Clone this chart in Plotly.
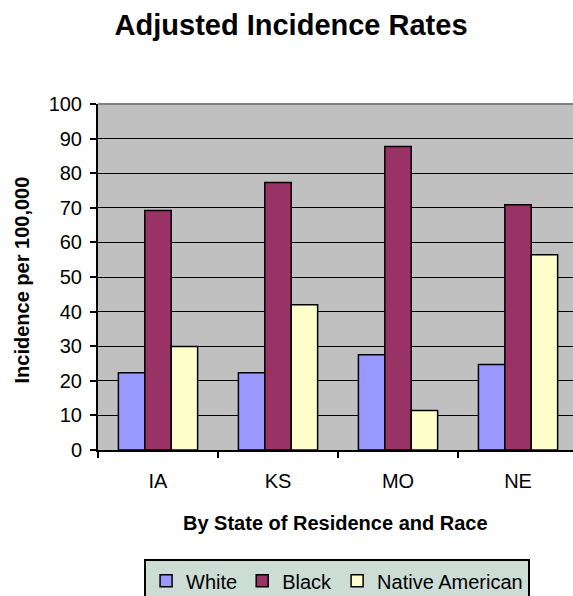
import plotly.graph_objects as go

# Adjusted incidence rates per 100,000 by state and race
states = ["IA", "KS", "MO", "NE"]
white = [22.3, 22.3, 27.5, 24.7]
black = [69.2, 77.3, 87.7, 70.9]
native_american = [29.9, 42.0, 11.4, 56.4]

series = [
    ("White", white, "#9999FF"),
    ("Black", black, "#993366"),
    ("Native American", native_american, "#FFFFCC"),
]

FONT = "Liberation Sans, Arial, sans-serif"

fig = go.Figure()
for name, vals, color in series:
    fig.add_trace(go.Bar(
        name=name, x=states, y=vals,
        marker=dict(color=color, line=dict(color="black", width=1.5)),
    ))

fig.update_layout(
    width=573, height=596,
    margin=dict(l=98, r=0, t=104, b=146, autoexpand=False),
    paper_bgcolor="white",
    plot_bgcolor="#C0C0C0",
    font=dict(family=FONT, size=20, color="black"),
    barmode="group",
    bargap=0.34,
    bargroupgap=0,
    title=dict(text="<b>Adjusted Incidence Rates</b>", x=0.508, xanchor="center",
               y=0.958, yanchor="middle", font=dict(size=29, family=FONT)),
    showlegend=True,
    legend=dict(orientation="h", x=0.097, xanchor="left", y=-0.316, yanchor="top",
                bgcolor="#CCDDD6", bordercolor="black", borderwidth=2,
                font=dict(size=20, family=FONT), itemwidth=30, traceorder="normal"),
    annotations=[
        dict(text="<b>Incidence per 100,000</b>", xref="paper", yref="paper",
             x=-0.16, y=0.49, xanchor="center", yanchor="middle", textangle=-90,
             showarrow=False, font=dict(size=20, family=FONT)),
        dict(text="<b>By State of Residence and Race</b>", xref="paper", yref="paper",
             x=0.5, y=-0.21, xanchor="center", yanchor="middle",
             showarrow=False, font=dict(size=20, family=FONT)),
    ],
    shapes=[
        dict(type="line", xref="paper", yref="paper", x0=0, x1=1, y0=1, y1=1,
             line=dict(color="#808080", width=2)),
    ],
)

fig.update_xaxes(
    type="category", range=[-0.5, 3.458],
    showline=True, linecolor="black", linewidth=2,
    ticks="outside", ticklen=6, tickwidth=2, tickcolor="black",
    tickson="boundaries", showgrid=False, ticklabelstandoff=12,
)
fig.update_yaxes(
    range=[0, 100], dtick=10,
    showline=True, linecolor="black", linewidth=2,
    ticks="outside", ticklen=6, tickwidth=2, tickcolor="black",
    showgrid=True, gridcolor="black", gridwidth=1, zeroline=False,
    ticklabelstandoff=4,
)

fig.write_html("out.html")
